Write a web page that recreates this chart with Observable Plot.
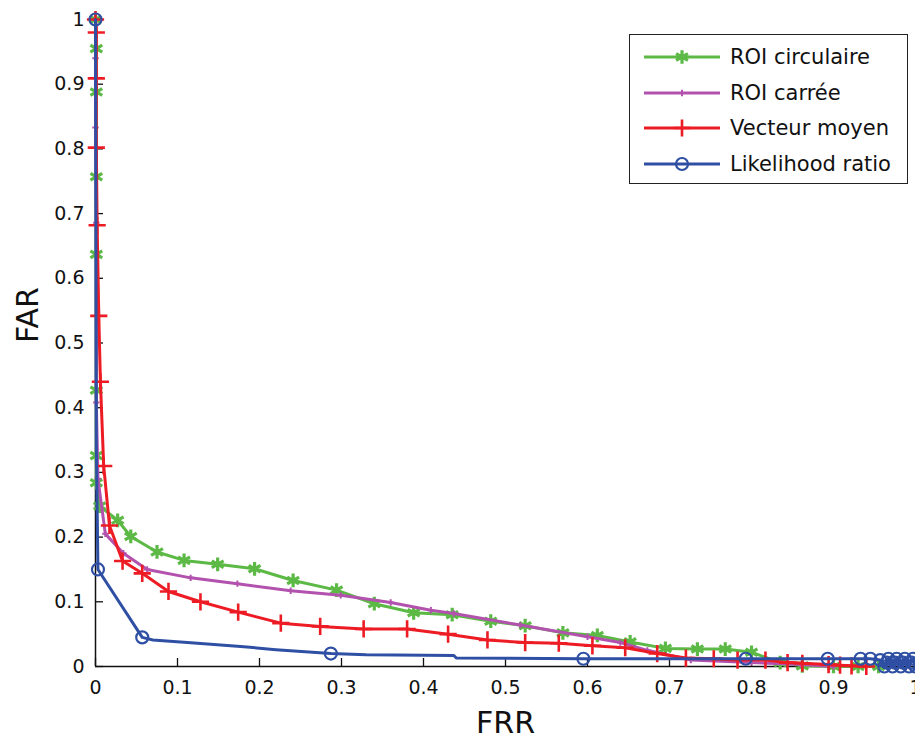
<!DOCTYPE html>
<html><head><meta charset="utf-8">
<script src="https://cdn.jsdelivr.net/npm/d3@7"></script>
<script src="https://cdn.jsdelivr.net/npm/@observablehq/plot@0.6"></script>
<style>
body{margin:0;background:#fff;}
#wrap{position:relative;width:915px;height:738px;overflow:hidden;background:#fff;}
#legend{position:absolute;left:629px;top:34px;width:279px;height:150px;border:1.5px solid #222;background:#fff;font-family:"DejaVu Sans",sans-serif;font-size:21px;box-sizing:border-box;color:#111;}
.row{position:absolute;left:14px;height:30px;display:flex;align-items:center;white-space:nowrap;}
.row svg{margin-right:10px;}
</style></head>
<body>
<div id="wrap"><div id="chart"></div><div id="legend"></div></div>
<script>
// ---- data ----
const seriesNames = ["ROI circulaire", "ROI carrée", "Vecteur moyen", "Likelihood ratio"];
const seriesColors = ["#5cb946", "#b352ae", "#ed1c24", "#2e4fa3"];

const greenFRR = [0, 0.001, 0.001, 0.001, 0.001, 0.001, 0.001, 0.001, 0.005, 0.027, 0.043, 0.075, 0.108, 0.149, 0.194, 0.241, 0.294, 0.34, 0.388, 0.435, 0.482, 0.524, 0.57, 0.612, 0.652, 0.695, 0.734, 0.768, 0.80, 0.835, 0.862, 0.90, 0.93, 0.955];
const greenFAR = [1, 0.955, 0.888, 0.757, 0.637, 0.427, 0.326, 0.284, 0.248, 0.226, 0.201, 0.177, 0.164, 0.158, 0.151, 0.133, 0.118, 0.097, 0.083, 0.080, 0.070, 0.063, 0.052, 0.048, 0.038, 0.028, 0.027, 0.027, 0.022, 0.006, 0.001, 0, 0, 0];

const magentaFRR = [0, 0, 0, 0.001, 0.001, 0.003, 0.012, 0.034, 0.063, 0.116, 0.173, 0.238, 0.299, 0.36, 0.409, 0.437, 0.518, 0.60, 0.64, 0.673, 0.726, 0.80, 0.86, 0.90];
const magentaFAR = [1, 0.94, 0.833, 0.686, 0.408, 0.29, 0.205, 0.175, 0.150, 0.137, 0.128, 0.117, 0.110, 0.099, 0.087, 0.082, 0.064, 0.046, 0.037, 0.025, 0.010, 0.006, 0.003, 0];

const redFRR = [0, 0.001, 0.001, 0.001, 0.002, 0.004, 0.006, 0.010, 0.017, 0.033, 0.057, 0.089, 0.128, 0.174, 0.226, 0.274, 0.327, 0.38, 0.43, 0.478, 0.524, 0.565, 0.606, 0.646, 0.685, 0.72, 0.754, 0.783, 0.817, 0.844, 0.862, 0.894, 0.908, 0.922, 0.94];
const redFAR = [1, 0.98, 0.909, 0.802, 0.682, 0.542, 0.44, 0.31, 0.218, 0.163, 0.144, 0.116, 0.100, 0.084, 0.067, 0.062, 0.058, 0.058, 0.050, 0.041, 0.037, 0.036, 0.032, 0.029, 0.020, 0.013, 0.012, 0.010, 0.010, 0.006, 0.005, 0.003, 0.002, 0.001, 0];

const blueFRR = [0, 0.001, 0.003, 0.057, 0.07, 0.112, 0.177, 0.22, 0.287, 0.33, 0.437, 0.44, 0.595, 0.793, 0.893, 0.933, 0.945, 0.957, 0.962, 0.967, 0.972, 0.977, 0.982, 0.987, 0.992, 0.997, 1];
const blueFAR = [1, 0.34, 0.15, 0.045, 0.041, 0.037, 0.031, 0.026, 0.020, 0.018, 0.017, 0.013, 0.012, 0.012, 0.012, 0.012, 0.012, 0.010, 0, 0.012, 0, 0.012, 0, 0.012, 0, 0.012, 0];
const blueMarkFRR = [0, 0.003, 0.057, 0.287, 0.595, 0.793, 0.893, 0.933, 0.945, 0.957, 0.962, 0.967, 0.972, 0.977, 0.982, 0.987, 0.992, 0.997, 1, 0.965, 0.975, 0.985, 0.995];
const blueMarkFAR = [1, 0.15, 0.045, 0.020, 0.012, 0.012, 0.012, 0.012, 0.012, 0.010, 0, 0.012, 0, 0.012, 0, 0.012, 0, 0.012, 0, 0.006, 0.006, 0.006, 0.006];

const xTicks = [0, 0.1, 0.2, 0.3, 0.4, 0.5, 0.6, 0.7, 0.8, 0.9, 1];
const xTickLabels = ["0", "0.1", "0.2", "0.3", "0.4", "0.5", "0.6", "0.7", "0.8", "0.9", "1"];
const yTicks = [0, 0.1, 0.2, 0.3, 0.4, 0.5, 0.6, 0.7, 0.8, 0.9, 1];
const yTickLabels = ["0", "0.1", "0.2", "0.3", "0.4", "0.5", "0.6", "0.7", "0.8", "0.9", "1"];
const xTitle = "FRR";
const yTitle = "FAR";

// ---- build ----
const rows = (xs, ys) => xs.map((x, i) => ({x, y: ys[i]}));
const green = rows(greenFRR, greenFAR);
const magenta = rows(magentaFRR, magentaFAR);
const red = rows(redFRR, redFAR);
const blue = rows(blueFRR, blueFAR);
const blueMarks = rows(blueMarkFRR, blueMarkFAR);

const W = 915, H = 738, mT = 19, mB = 72, mL = 95, mR = 0;
const frameW = W - mL - mR, frameH = H - mT - mB;
const sym = [
  {symbol: "asterisk", r: 6.5, sw: 3.2},
  {symbol: "plus", r: 2.2, sw: 2},
  {symbol: "plus", r: 5.6, sw: 2.6},
  {symbol: "circle", r: 6, sw: 2.2}
];

const chart = Plot.plot({
  width: W, height: H,
  marginTop: mT, marginBottom: mB, marginLeft: mL, marginRight: mR,
  style: {fontFamily: "DejaVu Sans, sans-serif", fontSize: "19px", color: "#111", background: "#fff", overflow: "visible"},
  x: {domain: [0, 1]},
  y: {domain: [0, 1]},
  marks: [
    Plot.axisX(xTicks, {tickSize: 0, tickPadding: 14, tickFormat: (d, i) => xTickLabels[i], label: null, fontSize: 19}),
    Plot.axisY(yTicks, {tickSize: 0, tickPadding: 11, tickFormat: (d, i) => yTickLabels[i], label: null, fontSize: 19}),
    Plot.ruleX(xTicks, {stroke: "#111", strokeWidth: 1.3, insetTop: frameH - 8}),
    Plot.ruleY(yTicks, {stroke: "#111", strokeWidth: 1.3, insetRight: frameW - 8}),
    Plot.ruleX([0], {stroke: "#111", strokeWidth: 1.5}),
    Plot.ruleY([0], {stroke: "#111", strokeWidth: 1.5}),
    Plot.text([xTitle], {frameAnchor: "bottom", dy: 66, fontSize: 30, fill: "#111"}),
    Plot.text([yTitle], {frameAnchor: "left", dx: -67, rotate: -90, fontSize: 30, fill: "#111"}),
    Plot.line(green, {x: "x", y: "y", stroke: seriesColors[0], strokeWidth: 3}),
    Plot.dot(green, {x: "x", y: "y", symbol: sym[0].symbol, r: sym[0].r, stroke: seriesColors[0], strokeWidth: sym[0].sw}),
    Plot.line(magenta, {x: "x", y: "y", stroke: seriesColors[1], strokeWidth: 3}),
    Plot.dot(magenta, {x: "x", y: "y", symbol: sym[1].symbol, r: sym[1].r, stroke: seriesColors[1], strokeWidth: sym[1].sw}),
    Plot.line(red, {x: "x", y: "y", stroke: seriesColors[2], strokeWidth: 3}),
    Plot.dot(red, {x: "x", y: "y", symbol: sym[2].symbol, r: sym[2].r, stroke: seriesColors[2], strokeWidth: sym[2].sw}),
    Plot.line(blue, {x: "x", y: "y", stroke: seriesColors[3], strokeWidth: 3}),
    Plot.dot(blueMarks, {x: "x", y: "y", symbol: sym[3].symbol, r: sym[3].r, stroke: seriesColors[3], strokeWidth: sym[3].sw})
  ]
});
document.getElementById("chart").appendChild(chart);

// ---- legend ----
const legend = document.getElementById("legend");
const symbolMap = {asterisk: d3.symbolAsterisk, plus: d3.symbolPlus, circle: d3.symbolCircle};
seriesNames.forEach((name, i) => {
  const row = document.createElement("div");
  row.className = "row";
  row.style.top = (7 + i * 35.5) + "px";
  const s = d3.create("svg").attr("width", 76).attr("height", 30);
  s.append("line").attr("x1", 0).attr("x2", 76).attr("y1", 15).attr("y2", 15)
    .attr("stroke", seriesColors[i]).attr("stroke-width", 3);
  s.append("path").attr("transform", "translate(38,15)")
    .attr("d", d3.symbol(symbolMap[sym[i].symbol], Math.PI * sym[i].r * sym[i].r)())
    .attr("fill", "none").attr("stroke", seriesColors[i]).attr("stroke-width", sym[i].sw);
  row.appendChild(s.node());
  const t = document.createElement("span");
  t.textContent = name;
  row.appendChild(t);
  legend.appendChild(row);
});
</script>
</body></html>
